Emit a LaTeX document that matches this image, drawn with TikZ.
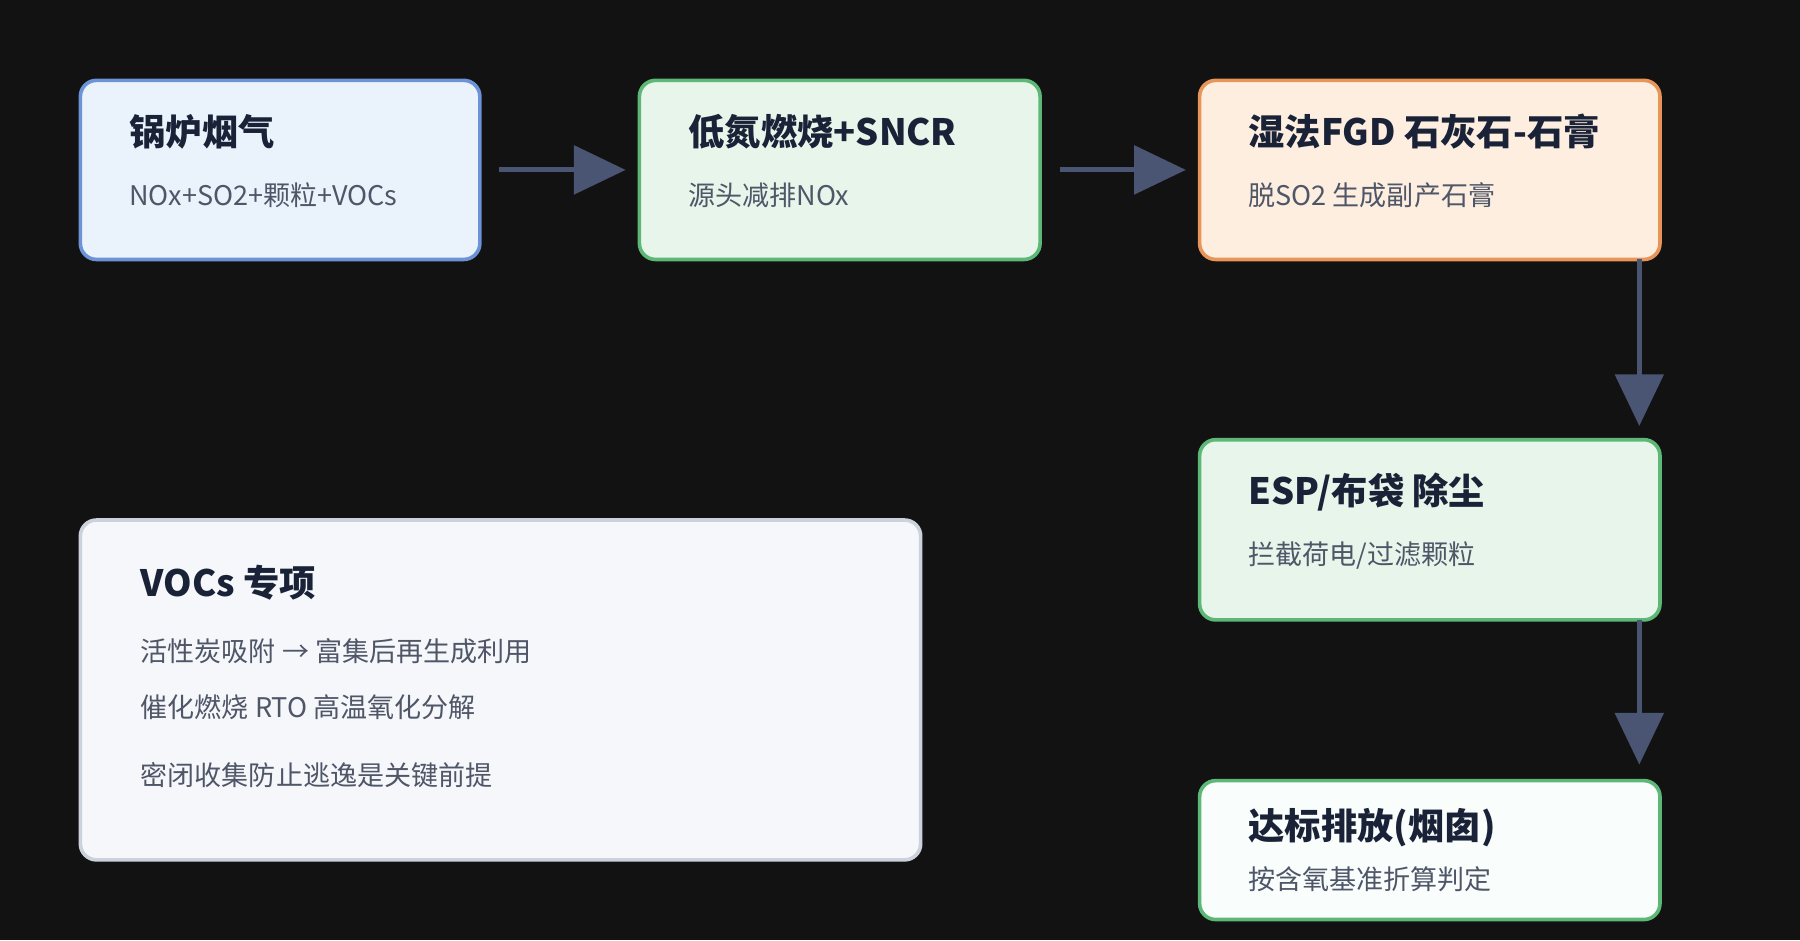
\documentclass[tikz,border=0pt]{standalone}
\usepackage{fontspec}
\setmainfont{Noto Sans CJK SC}
\usetikzlibrary{positioning,arrows.meta}
\definecolor{bg}{HTML}{121212}
\definecolor{ink}{HTML}{1A2238}
\definecolor{sub}{HTML}{4E5668}
\definecolor{arr}{HTML}{4A5573}
\definecolor{bluefill}{HTML}{EAF2FC}
\definecolor{blueline}{HTML}{6B93D6}
\definecolor{greenfill}{HTML}{E8F5EA}
\definecolor{greenline}{HTML}{5DB877}
\definecolor{orangefill}{HTML}{FDEEE0}
\definecolor{orangeline}{HTML}{E8955A}
\definecolor{grayfill}{HTML}{F5F7FA}
\definecolor{grayline}{HTML}{CCD2DB}
\begin{document}
\begin{tikzpicture}[
						box/.style={draw, line width=0.9pt, rounded corners=0.14cm},
						title/.style={anchor=west, font=\bfseries\fontsize{9}{11}\selectfont, text=ink, inner sep=0pt},
						note/.style={anchor=west, font=\fontsize{6.7}{8}\selectfont, text=sub, inner sep=0pt},
						flow/.style={draw=arr, line width=1.2pt, -{Triangle[length=0.45cm, width=0.42cm]}}
						]
						\fill[bg] (0,0) rectangle (15.68,-8.19);
						
						\draw[box, fill=bluefill, draw=blueline] (0.70,-0.70) rectangle (4.18,-2.26);
						\draw[box, fill=greenfill, draw=greenline] (5.57,-0.70) rectangle (9.06,-2.26);
						\draw[box, fill=orangefill, draw=orangeline] (10.45,-0.70) rectangle (14.46,-2.26);
						\draw[box, fill=greenfill, draw=greenline] (10.45,-3.83) rectangle (14.46,-5.40);
						\draw[box, fill=greenfill!85!cyan!10, draw=greenline] (10.45,-6.80) rectangle (14.46,-8.01);
						\draw[box, fill=grayfill, draw=grayline] (0.70,-4.53) rectangle (8.02,-7.49);
						
						\node[title] (t1) at (1.12,-1.15) {锅炉烟气};
						\node[note] (s1) at (1.12,-1.70) {NOx+SO2+颗粒+VOCs};
						\node[title] (t2) at (5.99,-1.15) {低氮燃烧+SNCR};
						\node[note] (s2) at (5.99,-1.70) {源头减排NOx};
						\node[title] (t3) at (10.87,-1.15) {湿法FGD 石灰石-石膏};
						\node[note] (s3) at (10.87,-1.70) {脱SO2 生成副产石膏};
						\node[title] (t4) at (10.87,-4.29) {ESP/布袋 除尘};
						\node[note] (s4) at (10.87,-4.84) {拦截荷电/过滤颗粒};
						\node[title] (t5) at (10.87,-7.21) {达标排放(烟囱)};
						\node[note] (s5) at (10.87,-7.66) {按含氧基准折算判定};
						
						\node[title] (tv) at (1.22,-5.08) {VOCs 专项};
						\node[note] (v1) at (1.22,-5.67) {活性炭吸附 → 富集后再生成利用};
						\node[note] (v2) at (1.22,-6.16) {催化燃烧 RTO 高温氧化分解};
						\node[note] (v3) at (1.22,-6.75) {密闭收集防止逃逸是关键前提};
						
						\coordinate (a1) at (4.35,-1.48);
						\coordinate (b1) at (5.45,-1.48);
						\coordinate (a2) at (9.23,-1.48);
						\coordinate (b2) at (10.33,-1.48);
						\coordinate (a3) at (14.28,-2.26);
						\coordinate (b3) at (14.28,-3.71);
						\coordinate (a4) at (14.28,-5.40);
						\coordinate (b4) at (14.28,-6.66);
						
						\draw[flow] (a1) -- (b1);
						\draw[flow] (a2) -- (b2);
						\draw[flow] (a3) -- (b3);
						\draw[flow] (a4) -- (b4);
					\end{tikzpicture}
\end{document}
